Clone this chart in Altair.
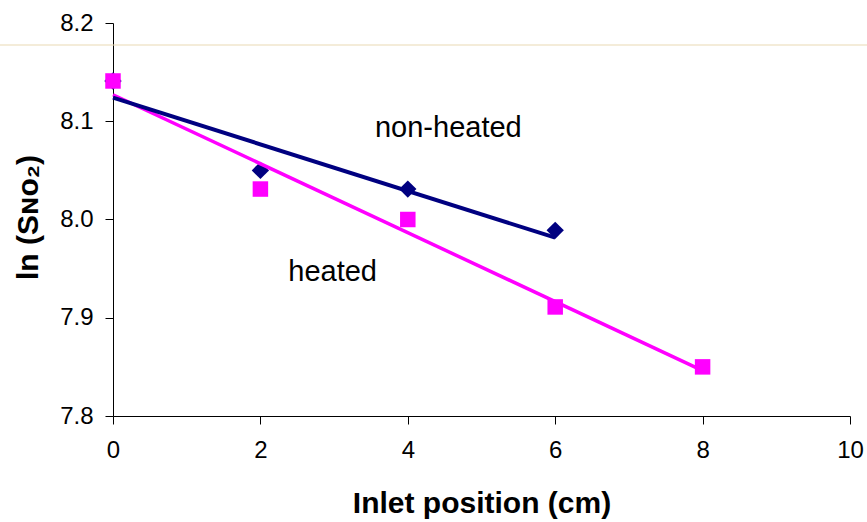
import altair as alt
import pandas as pd

# Data
x_nonheated = [0, 2, 4, 6]
y_nonheated = [8.141, 8.05, 8.031, 7.989]
x_heated = [0, 2, 4, 6, 8]
y_heated = [8.141, 8.031, 8.000, 7.911, 7.850]

label_text = ["non-heated", "heated"]
label_x = [4.55, 2.98]
label_y = [8.084, 7.9375]

FONT = "Liberation Sans"
NAVY = "#000080"
MAGENTA = "#ff00ff"

nh = pd.DataFrame({"x": x_nonheated, "y": y_nonheated})
h = pd.DataFrame({"x": x_heated, "y": y_heated})
lab = pd.DataFrame({"t": label_text, "x": label_x, "y": label_y})

xs = alt.Scale(domain=[0, 10], nice=False, zero=False)
ys = alt.Scale(domain=[7.8, 8.2], nice=False, zero=False)

xax = alt.Axis(values=[0, 2, 4, 6, 8, 10], format="d", title="Inlet position (cm)", grid=False,
               labelFont=FONT, labelFontSize=24, labelColor="black", labelPadding=14,
               tickColor="black", tickSize=8, domainColor="black", labelFlush=False,
               titleFont=FONT, titleFontSize=30, titleFontWeight="bold", titleColor="black",
               titleY=87, titleBaseline="middle")
yax = alt.Axis(values=[7.8, 7.9, 8.0, 8.1, 8.2], format=".1f", title="ln (Sɴᴏ₂)", grid=False,
               labelFont=FONT, labelFontSize=24, labelColor="black", labelPadding=12,
               tickColor="black", tickSize=8, domainColor="black", labelFlush=False,
               titleFont=FONT, titleFontSize=30, titleFontWeight="bold", titleColor="black",
               titleAngle=270, titleX=-85, titleY=194, titleAlign="center", titleBaseline="middle")

base_nh = alt.Chart(nh)
base_h = alt.Chart(h)

pts_nh = base_nh.mark_point(shape="diamond", filled=True, size=300, color=NAVY, opacity=1).encode(
    x=alt.X("x:Q", scale=xs, axis=xax), y=alt.Y("y:Q", scale=ys, axis=yax))
pts_h = base_h.mark_point(shape="square", filled=True, size=240, color=MAGENTA, opacity=1).encode(
    x=alt.X("x:Q", scale=xs, axis=xax), y=alt.Y("y:Q", scale=ys, axis=yax))

fit_h = base_h.transform_regression("x", "y").mark_line(color=MAGENTA, strokeWidth=3.5).encode(
    x=alt.X("x:Q", scale=xs, axis=xax), y=alt.Y("y:Q", scale=ys, axis=yax))
fit_nh = base_nh.transform_regression("x", "y").mark_line(color=NAVY, strokeWidth=4).encode(
    x=alt.X("x:Q", scale=xs, axis=xax), y=alt.Y("y:Q", scale=ys, axis=yax))

labels = alt.Chart(lab).mark_text(font=FONT, fontSize=29, color="black", align="center",
                                  baseline="alphabetic").encode(
    x=alt.X("x:Q", scale=xs, axis=xax), y=alt.Y("y:Q", scale=ys, axis=yax), text="t:N")

topline = alt.Chart(pd.DataFrame({"a": [0]})).mark_rule(color="#ead9b4", strokeWidth=1.2).encode(
    x=alt.value(-113), x2=alt.value(754), y=alt.value(22))

chart = alt.layer(topline, pts_nh, pts_h, fit_h, fit_nh, labels).properties(
    width=737, height=393,
    padding={"left": 113, "top": 23, "right": 17, "bottom": 106},
    autosize=alt.AutoSizeParams(type="none"),
    background="white",
).configure_view(stroke=None)

chart.save("out.html", embed_options={"renderer": "svg", "actions": False})
